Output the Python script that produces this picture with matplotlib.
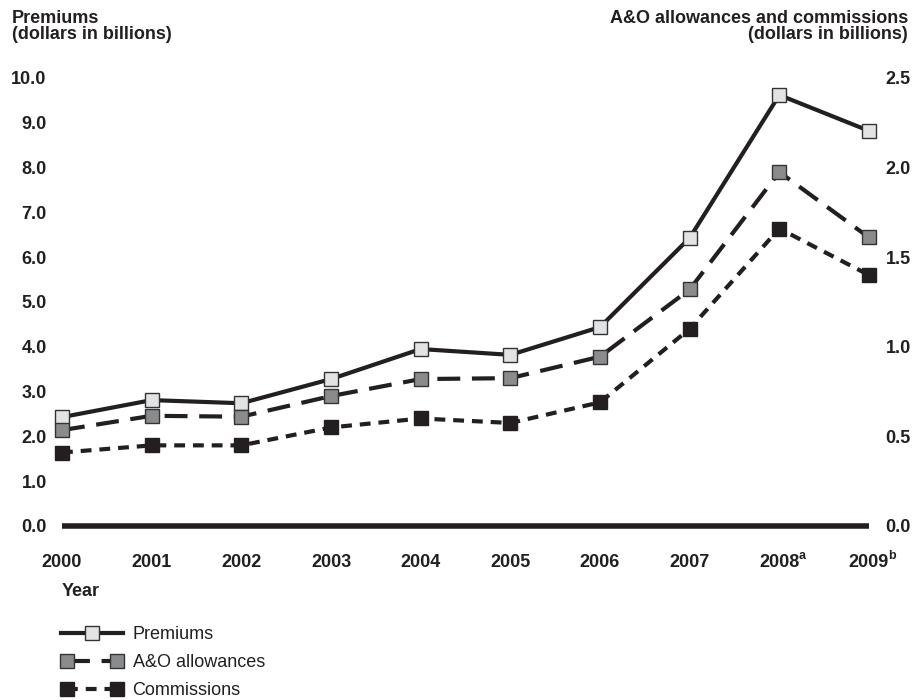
import matplotlib.pyplot as plt
from matplotlib.legend_handler import HandlerLine2D

plt.rcParams['font.family'] = ['Liberation Sans', 'DejaVu Sans']

# data (dollars in billions)
years = ['2000', '2001', '2002', '2003', '2004', '2005', '2006', '2007', '2008', '2009']
notes = {8: 'a', 9: 'b'}
premiums = [2.43, 2.81, 2.74, 3.28, 3.95, 3.82, 4.44, 6.43, 9.62, 8.82]
ao_allow = [0.535, 0.615, 0.61, 0.725, 0.82, 0.825, 0.945, 1.32, 1.975, 1.61]
commissions = [0.41, 0.45, 0.45, 0.55, 0.60, 0.575, 0.69, 1.10, 1.66, 1.40]

left_ticks = [0, 1, 2, 3, 4, 5, 6, 7, 8, 9, 10]
right_ticks = [0, 0.5, 1.0, 1.5, 2.0, 2.5]

ink = '#231f20'
fs = 13
x = list(range(len(years)))

fig = plt.figure(figsize=(9.15, 7), dpi=100)
ax = fig.add_axes([62 / 915, 174 / 700, 807 / 915, 448 / 700])
ax2 = ax.twinx()

ax.set_xlim(0, 9)
ax.set_ylim(0, 10)
ax2.set_ylim(0, 2.5)

ax.plot([0, 9], [0, 0], color=ink, lw=4, solid_capstyle='butt', clip_on=False)

l1, = ax.plot(x, premiums, color=ink, lw=3, marker='s', ms=10,
              mfc='#e2e3e4', mec='#333333', mew=1, clip_on=False, label='Premiums')
l2, = ax2.plot(x, ao_allow, color=ink, lw=3, dashes=(5.5, 2.8), marker='s', ms=10,
               mfc='#8a8b8d', mec='#333333', mew=1, clip_on=False, label='A&O allowances')
l3, = ax2.plot(x, commissions, color=ink, lw=3, dashes=(2.6, 1.9), marker='s', ms=10,
               mfc='#231f20', mec='#231f20', mew=1, clip_on=False, label='Commissions')

for a in (ax, ax2):
    for s in a.spines.values():
        s.set_visible(False)
    a.tick_params(length=0)

ax.set_yticks(left_ticks)
ax.set_yticklabels(['%.1f' % v for v in left_ticks], fontsize=fs, fontweight='bold', color=ink)
ax.tick_params(axis='y', pad=11)
ax2.set_yticks(right_ticks)
ax2.set_yticklabels(['%.1f' % v for v in right_ticks], fontsize=fs, fontweight='bold', color=ink)
ax2.tick_params(axis='y', pad=12)

ax.set_xticks(x)
ax.set_xticklabels(years, fontsize=fs, fontweight='bold', color=ink)
ax.tick_params(axis='x', pad=20)

# superscript notes on 2008 and 2009
for i, n in notes.items():
    ax.annotate(n, xy=(i, 0), xytext=(13.8, -17.5), textcoords='offset points',
                ha='left', va='top', fontsize=9, fontweight='bold', color=ink,
                annotation_clip=False)

fig.text(12 / 915, 1 - 10 / 700, 'Premiums\n(dollars in billions)', ha='left', va='top',
         fontsize=fs, fontweight='bold', linespacing=0.95, color=ink)
fig.text(908 / 915, 1 - 10 / 700, 'A&O allowances and commissions\n(dollars in billions)',
         ha='right', va='top', fontsize=fs, fontweight='bold', linespacing=0.95,
         multialignment='right', color=ink)
fig.text(62 / 915, 1 - 591 / 700, 'Year', ha='left', va='center',
         fontsize=fs, fontweight='bold', color=ink)

fig.legend(handles=[l1, l2, l3], loc='upper left', bbox_to_anchor=(54 / 915, 1 - 619 / 700),
           frameon=False, fontsize=fs, handlelength=3.4, labelspacing=0.6,
           handletextpad=0.55, borderaxespad=0, numpoints=2, labelcolor=ink,
           handler_map={l1: HandlerLine2D(numpoints=1)})

fig.savefig('out.png', dpi=100)
